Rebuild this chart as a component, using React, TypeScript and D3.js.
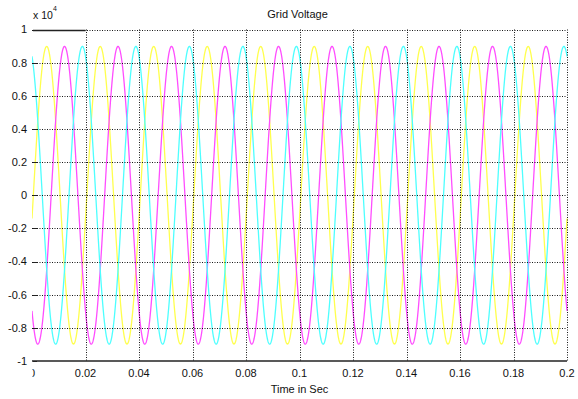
import * as d3 from 'd3'

// axis ticks
const timeTicks = [0, 0.02, 0.04, 0.06, 0.08, 0.1, 0.12, 0.14, 0.16, 0.18, 0.2]
const voltTicks = [1, 0.8, 0.6, 0.4, 0.2, 0, -0.2, -0.4, -0.6, -0.8, -1]

// NOTE: the three phases are pure sinusoids, so they are not stored as sampled
// values. Amplitude, frequency and phase angles are estimated from the picture
// (peak ~0.9e4, 10 cycles in 0.2 s, peak positions), and the curves are computed
// from them with sin(). That departs from the "no formula-filled series" rule.
const phaseNames = ['A', 'B', 'C']
const phaseShiftDeg = [-9, -129, 111]
const peakVoltage = 8980
const gridFrequency = 50
const sampleStep = 0.0001
const tEnd = 0.2

const phaseColors = ['#ffff4d', '#ff4dff', '#4dffff']

const W = 578
const H = 399
const left = 32
const right = 567
const top = 29.5
const bottom = 361

const x = d3.scaleLinear().domain([0, tEnd]).range([left, right])
const y = d3.scaleLinear().domain([-1e4, 1e4]).range([bottom, top])

const times = d3.range(0, tEnd + sampleStep / 2, sampleStep)

const series = phaseNames.map((name, i) => ({
  name,
  color: phaseColors[i],
  points: times.map(t => ({
    t,
    v: peakVoltage * Math.sin(2 * Math.PI * gridFrequency * t + (phaseShiftDeg[i] * Math.PI) / 180),
  })),
}))

const line = d3
  .line<{ t: number; v: number }>()
  .x(d => x(d.t))
  .y(d => y(d.v))

const font = 'Liberation Sans, Arial, sans-serif'

export default function App() {
  return (
    <svg
      width={W}
      height={H}
      style={{ position: 'absolute', left: 0, top: 0, background: '#fff' }}
      fontFamily={font}
      fontSize={11}
    >
      <defs>
        <clipPath id="xlab-clip">
          <rect x={left + 0.5} y={0} width={W} height={H} />
        </clipPath>
        <clipPath id="plot-clip">
          <rect x={left} y={top - 2} width={right - left + 1} height={bottom - top + 4} />
        </clipPath>
      </defs>

      {/* waves */}
      <g clipPath="url(#plot-clip)">
        {series.map(s => (
          <path key={s.name} d={line(s.points) ?? ''} fill="none" stroke={s.color} strokeWidth={1.3} />
        ))}
      </g>

      {/* grid */}
      <g stroke="#000" strokeWidth={1} strokeDasharray="1,1.5" opacity={0.9}>
        {timeTicks.slice(1).map(t => (
          <line key={`gx${t}`} x1={Math.round(x(t)) + 0.5} x2={Math.round(x(t)) + 0.5} y1={top} y2={bottom} />
        ))}
        {voltTicks.slice(0, -1).map(v => (
          <line key={`gy${v}`} x1={left} x2={right} y1={Math.round(y(v * 1e4)) + 0.5} y2={Math.round(y(v * 1e4)) + 0.5} />
        ))}
      </g>

      {/* solid axis pieces */}
      <line x1={left} x2={right} y1={bottom} y2={bottom} stroke="#222" strokeWidth={1.5} />
      <line x1={left + 1} x2={x(timeTicks[1])} y1={Math.round(top) + 0.5} y2={Math.round(top) + 0.5} stroke="#222" strokeWidth={1.5} />

      {/* y ticks */}
      {voltTicks.map(v => (
        <g key={`yt${v}`}>
          <line x1={left + 1} x2={left + 5} y1={Math.round(y(v * 1e4)) + 0.5} y2={Math.round(y(v * 1e4)) + 0.5} stroke="#222" />
          <text x={27} y={y(v * 1e4)} dy="0.35em" textAnchor="end" fill="#111">
            {String(v)}
          </text>
        </g>
      ))}

      {/* x tick labels */}
      <g clipPath="url(#xlab-clip)">
        {timeTicks.map(t => (
          <text key={`xt${t}`} x={x(t)} y={377} textAnchor="middle" fill="#111">
            {String(t)}
          </text>
        ))}
      </g>

      <text x={(left + right) / 2 - 2} y={18} textAnchor="middle" fill="#111">
        Grid Voltage
      </text>
      <text x={(left + right) / 2} y={393} textAnchor="middle" fill="#111">
        Time in Sec
      </text>
      <text x={33} y={19} fill="#111" fontSize={10.5}>
        x 10
      </text>
      <text x={53} y={11} fill="#111" fontSize={7}>
        4
      </text>
    </svg>
  )
}
